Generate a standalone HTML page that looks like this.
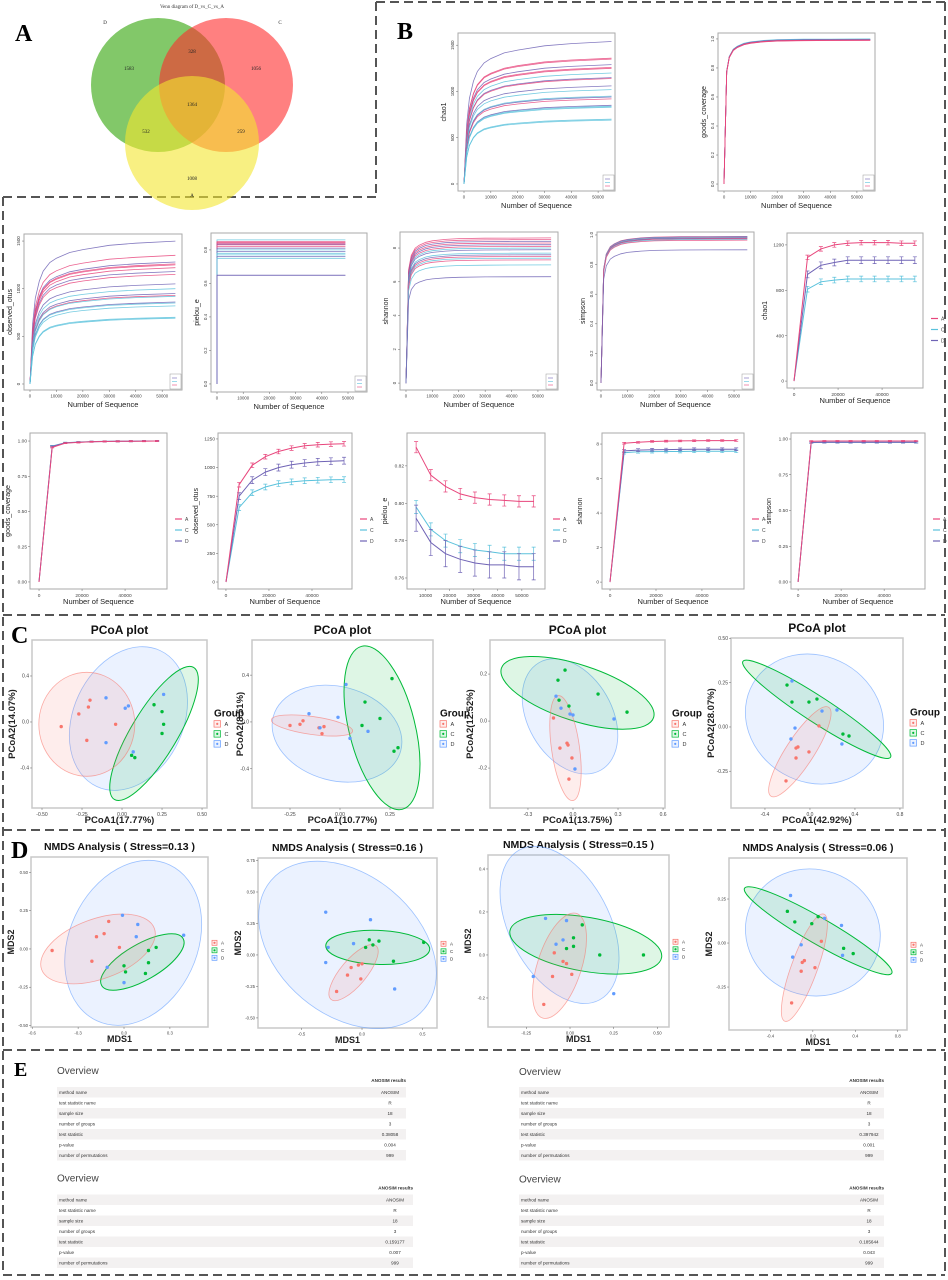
<!DOCTYPE html>
<html><head><meta charset="utf-8">
<style>
html,body{margin:0;padding:0;background:#fff;}
svg{display:block;font-family:"Liberation Sans",sans-serif;}
.lt{font-family:"Liberation Serif",serif;font-weight:bold;font-size:24px;}
.tb{font-size:4.6px;fill:#333;}
.ov{font-size:10px;fill:#444;}
</style></head>
<body>
<svg id="fig" width="948" height="1280" viewBox="0 0 948 1280" xmlns="http://www.w3.org/2000/svg">
<rect x="0" y="0" width="948" height="1280" fill="#fff"/>
<g stroke="#555" stroke-width="2" stroke-dasharray="9 5" fill="none">
<line x1="376" y1="2" x2="945" y2="2"/><line x1="376" y1="2" x2="376" y2="197"/><line x1="3" y1="197" x2="376" y2="197"/>
<line x1="945" y1="2" x2="945" y2="1275"/><line x1="3" y1="197" x2="3" y2="1275"/>
<line x1="3" y1="615" x2="945" y2="615"/><line x1="3" y1="830" x2="945" y2="830"/><line x1="3" y1="1050" x2="945" y2="1050"/><line x1="3" y1="1275" x2="945" y2="1275"/>
</g>
<text class="lt" x="15" y="41">A</text>
<text class="lt" x="397" y="39">B</text>
<text class="lt" x="11" y="643">C</text>
<text class="lt" x="11" y="858">D</text>
<text class="lt" x="14" y="1076" style="font-size:20px">E</text>

<g>
<text x="192" y="8" font-size="5" text-anchor="middle" fill="#333" font-family="Liberation Serif">Venn diagram of D_vs_C_vs_A</text>
<circle cx="158" cy="85" r="67" fill="#2fa305" fill-opacity="0.6"/>
<circle cx="226" cy="85" r="67" fill="#ff2b2b" fill-opacity="0.6"/>
<circle cx="192" cy="143" r="67" fill="#f3e62f" fill-opacity="0.6"/>
<g font-family="Liberation Serif" font-size="5" fill="#222" text-anchor="middle">
<text x="105" y="24">D</text><text x="280" y="24">C</text><text x="192" y="197">A</text>
<text x="129" y="70">1583</text><text x="192" y="53">328</text><text x="256" y="70">1056</text>
<text x="192" y="106">1364</text><text x="146" y="133">532</text><text x="241" y="133">259</text><text x="192" y="180">1008</text>
</g>
</g>

<g transform="translate(57,1087)">
<text class="ov" x="0" y="-13">Overview</text>
<text class="tb" x="349" y="-5" text-anchor="end" font-weight="bold">ANOSIM results</text>
<rect y="0" width="349" height="10.5" fill="#f3f1f1"/><rect y="21" width="349" height="10.5" fill="#f3f1f1"/><rect y="42" width="349" height="10.5" fill="#f3f1f1"/><rect y="63" width="349" height="10.5" fill="#f3f1f1"/>
<text class="tb" x="2" y="7">method name</text><text class="tb" x="333" y="7" text-anchor="middle">ANOSIM</text>
<text class="tb" x="2" y="17.5">test statistic name</text><text class="tb" x="333" y="17.5" text-anchor="middle">R</text>
<text class="tb" x="2" y="28">sample size</text><text class="tb" x="333" y="28" text-anchor="middle">18</text>
<text class="tb" x="2" y="38.5">number of groups</text><text class="tb" x="333" y="38.5" text-anchor="middle">3</text>
<text class="tb" x="2" y="49">test statistic</text><text class="tb" x="333" y="49" text-anchor="middle">0.38058</text>
<text class="tb" x="2" y="59.5">p-value</text><text class="tb" x="333" y="59.5" text-anchor="middle">0.004</text>
<text class="tb" x="2" y="70">number of permutations</text><text class="tb" x="333" y="70" text-anchor="middle">999</text>
</g>
<g transform="translate(519,1087)">
<text class="ov" x="0" y="-12">Overview</text>
<text class="tb" x="365" y="-5" text-anchor="end" font-weight="bold">ANOSIM results</text>
<rect y="0" width="365" height="10.5" fill="#f3f1f1"/><rect y="21" width="365" height="10.5" fill="#f3f1f1"/><rect y="42" width="365" height="10.5" fill="#f3f1f1"/><rect y="63" width="365" height="10.5" fill="#f3f1f1"/>
<text class="tb" x="2" y="7">method name</text><text class="tb" x="350" y="7" text-anchor="middle">ANOSIM</text>
<text class="tb" x="2" y="17.5">test statistic name</text><text class="tb" x="350" y="17.5" text-anchor="middle">R</text>
<text class="tb" x="2" y="28">sample size</text><text class="tb" x="350" y="28" text-anchor="middle">18</text>
<text class="tb" x="2" y="38.5">number of groups</text><text class="tb" x="350" y="38.5" text-anchor="middle">3</text>
<text class="tb" x="2" y="49">test statistic</text><text class="tb" x="350" y="49" text-anchor="middle">0.397942</text>
<text class="tb" x="2" y="59.5">p-value</text><text class="tb" x="350" y="59.5" text-anchor="middle">0.001</text>
<text class="tb" x="2" y="70">number of permutations</text><text class="tb" x="350" y="70" text-anchor="middle">999</text>
</g>
<g transform="translate(57,1194.5)">
<text class="ov" x="0" y="-13">Overview</text>
<text class="tb" x="356" y="-5" text-anchor="end" font-weight="bold">ANOSIM results</text>
<rect y="0" width="356" height="10.5" fill="#f3f1f1"/><rect y="21" width="356" height="10.5" fill="#f3f1f1"/><rect y="42" width="356" height="10.5" fill="#f3f1f1"/><rect y="63" width="356" height="10.5" fill="#f3f1f1"/>
<text class="tb" x="2" y="7">method name</text><text class="tb" x="338" y="7" text-anchor="middle">ANOSIM</text>
<text class="tb" x="2" y="17.5">test statistic name</text><text class="tb" x="338" y="17.5" text-anchor="middle">R</text>
<text class="tb" x="2" y="28">sample size</text><text class="tb" x="338" y="28" text-anchor="middle">18</text>
<text class="tb" x="2" y="38.5">number of groups</text><text class="tb" x="338" y="38.5" text-anchor="middle">3</text>
<text class="tb" x="2" y="49">test statistic</text><text class="tb" x="338" y="49" text-anchor="middle">0.159177</text>
<text class="tb" x="2" y="59.5">p-value</text><text class="tb" x="338" y="59.5" text-anchor="middle">0.007</text>
<text class="tb" x="2" y="70">number of permutations</text><text class="tb" x="338" y="70" text-anchor="middle">999</text>
</g>
<g transform="translate(519,1194.5)">
<text class="ov" x="0" y="-12">Overview</text>
<text class="tb" x="365" y="-5" text-anchor="end" font-weight="bold">ANOSIM results</text>
<rect y="0" width="365" height="10.5" fill="#f3f1f1"/><rect y="21" width="365" height="10.5" fill="#f3f1f1"/><rect y="42" width="365" height="10.5" fill="#f3f1f1"/><rect y="63" width="365" height="10.5" fill="#f3f1f1"/>
<text class="tb" x="2" y="7">method name</text><text class="tb" x="350" y="7" text-anchor="middle">ANOSIM</text>
<text class="tb" x="2" y="17.5">test statistic name</text><text class="tb" x="350" y="17.5" text-anchor="middle">R</text>
<text class="tb" x="2" y="28">sample size</text><text class="tb" x="350" y="28" text-anchor="middle">18</text>
<text class="tb" x="2" y="38.5">number of groups</text><text class="tb" x="350" y="38.5" text-anchor="middle">3</text>
<text class="tb" x="2" y="49">test statistic</text><text class="tb" x="350" y="49" text-anchor="middle">0.185644</text>
<text class="tb" x="2" y="59.5">p-value</text><text class="tb" x="350" y="59.5" text-anchor="middle">0.043</text>
<text class="tb" x="2" y="70">number of permutations</text><text class="tb" x="350" y="70" text-anchor="middle">999</text>
</g>
<g id="plots"></g>
</svg>
<script>
// ---------- data ----------
const rfX=[0,1000,2000,3500,5000,7500,10000,15000,20000,30000,40000,55000];
const rfFrac=[0,0.42,0.6,0.72,0.79,0.85,0.88,0.92,0.94,0.97,0.985,1];
const rfFracFast=[0,0.78,0.88,0.93,0.95,0.97,0.98,0.99,0.995,0.998,0.999,1];
const chaoIndVals=[1540,1360,1350,1290,1260,1250,1200,1150,1140,1060,1020,950,940,920,850,840,830,700,690];
const chaoIndGrp=['D','A','A','D','A','A','C','D','A','D','C','C','D','A','D','C','C','C','C'];
const goodsIndVals=[1,0.998,0.997,0.996,0.995,0.994,0.993,0.992,0.991,0.99];
const goodsIndGrp=['C','C','D','D','C','D','A','A','A','A'];
const obsIndVals=[1500,1350,1280,1260,1250,1220,1180,1150,1050,1000,950,930,920,860,850,820,700,690];
const obsIndGrp=['D','A','D','A','A','A','D','A','D','C','D','A','C','D','C','C','C','C'];
const pielouIndVals=[0.86,0.85,0.845,0.84,0.835,0.83,0.82,0.81,0.8,0.79,0.78,0.77,0.76,0.75,0.65,0.648];
const pielouIndGrp=['C','A','A','A','D','A','A','D','C','D','C','C','D','C','D','D'];
const shanIndVals=[8.6,8.5,8.4,8.3,8.2,8.1,8.0,7.9,7.7,7.6,7.5,7.4,7.3,7.0,6.3];
const shanIndGrp=['A','A','D','A','D','A','C','D','C','D','A','C','A','C','D'];
const simpIndVals=[0.99,0.988,0.985,0.982,0.98,0.978,0.975,0.97,0.965,0.9];
const simpIndGrp=['A','D','C','A','C','D','A','C','A','D'];

const meanX=[0,6100,12200,18300,24400,30500,36600,42700,48800,54900];
const meanX2=[6100,12200,18300,24400,30500,36600,42700,48800,54900];
const chaoA=[0,1090,1165,1200,1215,1220,1220,1220,1215,1215];
const chaoC=[0,810,875,890,900,900,900,900,900,900];
const chaoD=[0,940,1020,1045,1065,1065,1065,1065,1065,1065];
const goodsA=[0,0.955,0.985,0.99,0.995,0.997,0.998,0.999,0.999,1.0];
const goodsC=[0,0.965,0.988,0.993,0.996,0.998,0.999,0.999,1.0,1.0];
const goodsD=[0,0.962,0.987,0.992,0.995,0.997,0.998,0.999,1.0,1.0];
const obsA=[0,850,1020,1095,1140,1170,1190,1200,1205,1208];
const obsC=[0,650,780,830,860,875,885,890,893,895];
const obsD=[0,750,890,960,1000,1025,1040,1050,1055,1060];
const pieA=[0.830,0.815,0.809,0.805,0.803,0.802,0.8015,0.801,0.801];
const pieC=[0.798,0.786,0.780,0.777,0.775,0.774,0.773,0.773,0.773];
const pieD=[0.792,0.779,0.773,0.770,0.768,0.767,0.767,0.766,0.766];
const shanA=[0,8.05,8.1,8.15,8.17,8.18,8.19,8.2,8.2,8.2];
const shanC=[0,7.5,7.55,7.56,7.57,7.57,7.58,7.58,7.58,7.58];
const shanD=[0,7.6,7.65,7.67,7.68,7.69,7.7,7.7,7.7,7.7];
const simpA=[0,0.985,0.986,0.986,0.986,0.986,0.986,0.986,0.986,0.986];
const simpC=[0,0.975,0.976,0.976,0.976,0.976,0.976,0.976,0.976,0.976];
const simpD=[0,0.976,0.977,0.977,0.977,0.977,0.977,0.977,0.977,0.977];

const c1A=[[-0.38,-0.04],[-0.27,0.07],[-0.21,0.13],[-0.20,0.19],[-0.04,-0.02],[-0.22,-0.16]];
const c1C=[[0.20,0.15],[0.25,0.09],[0.26,-0.02],[0.25,-0.10],[0.06,-0.29],[0.08,-0.31]];
const c1D=[[-0.10,0.21],[0.02,0.12],[0.04,0.14],[-0.10,-0.18],[0.07,-0.26],[0.26,0.24]];
const c2A=[[-0.25,-0.03],[-0.2,-0.02],[-0.185,0.01],[-0.105,-0.05],[-0.08,-0.04],[-0.09,-0.1]];
const c2C=[[0.26,0.37],[0.125,0.17],[0.2,0.03],[0.11,-0.03],[0.27,-0.25],[0.29,-0.22]];
const c2D=[[-0.155,0.07],[0.03,0.32],[-0.01,0.04],[0.05,-0.14],[0.14,-0.08],[-0.1,-0.05]];
const c3A=[[-0.13,0.013],[-0.087,-0.115],[-0.04,-0.094],[-0.033,-0.102],[-0.007,-0.157],[-0.027,-0.247]];
const c3C=[[-0.1,0.174],[-0.053,0.217],[-0.093,0.089],[-0.027,0.064],[0.167,0.115],[0.36,0.038]];
const c3D=[[-0.113,0.106],[-0.08,0.055],[-0.02,0.03],[0.0,0.026],[0.273,0.009],[0.013,-0.204]];
const c4A=[[0.08,0.006],[-0.009,-0.141],[-0.107,-0.113],[-0.124,-0.119],[-0.124,-0.175],[-0.213,-0.305]];
const c4C=[[-0.204,0.237],[-0.16,0.141],[-0.009,0.141],[0.062,0.158],[0.293,-0.04],[0.347,-0.051]];
const c4D=[[-0.16,0.26],[0.107,0.09],[0.24,0.096],[-0.133,-0.006],[-0.169,-0.068],[0.284,-0.096]];
const d1A=[[-0.47,-0.01],[-0.21,-0.08],[-0.18,0.08],[-0.13,0.10],[-0.10,0.18],[-0.03,0.01]];
const d1C=[[0.0,-0.11],[0.01,-0.15],[0.16,-0.01],[0.21,0.01],[0.16,-0.09],[0.14,-0.16]];
const d1D=[[-0.01,0.22],[0.09,0.16],[0.08,0.08],[-0.11,-0.12],[0.0,-0.22],[0.39,0.09]];
const d2A=[[-0.21,-0.29],[-0.12,-0.16],[-0.09,-0.1],[-0.03,-0.08],[0,-0.07],[-0.01,-0.19]];
const d2C=[[0.06,0.12],[0.14,0.11],[0.03,0.06],[0.09,0.08],[0.26,-0.05],[0.51,0.10]];
const d2D=[[-0.3,0.34],[-0.28,0.06],[-0.3,-0.06],[-0.07,0.09],[0.07,0.28],[0.27,-0.27]];
const d3A=[[-0.09,0.01],[-0.04,-0.03],[-0.02,-0.04],[-0.1,-0.1],[0.01,-0.09],[-0.15,-0.23]];
const d3C=[[0.07,0.14],[0.02,0.08],[-0.02,0.03],[0.02,0.04],[0.17,0.0],[0.42,0.0]];
const d3D=[[-0.14,0.17],[-0.02,0.16],[-0.04,0.07],[-0.08,0.05],[-0.21,-0.10],[0.25,-0.18]];
const d4A=[[0.08,0.01],[-0.10,-0.11],[-0.08,-0.10],[-0.11,-0.16],[0.02,-0.14],[-0.2,-0.34]];
const d4C=[[-0.24,0.18],[-0.17,0.12],[-0.01,0.11],[0.05,0.15],[0.29,-0.03],[0.38,-0.06]];
const d4D=[[-0.21,0.27],[0.11,0.14],[0.27,0.10],[-0.11,-0.01],[-0.19,-0.08],[0.28,-0.07]];
const c1Ell=[[-0.22,-0.02],[0.20,-0.10],[0.04,0.03]];
const c2Ell=[[-0.14,-0.03],[0.21,-0.05],[-0.015,-0.10]];
const c3Ell=[[-0.05,-0.115],[0.03,0.12],[-0.02,0.02]];
const c4Ell=[[-0.09,-0.14],[0.06,0.10],[0.04,0.045]];
const d1Ell=[[-0.17,0.0],[0.12,-0.085],[0.06,0.04]];
const d2Ell=[[-0.07,-0.14],[0.13,0.06],[-0.12,0.08]];
const d3Ell=[[-0.06,-0.05],[0.09,0.05],[-0.06,0.14]];
const d4Ell=[[-0.08,-0.14],[0.05,0.07],[0.0,0.06]];

// ---------- helpers ----------
const NS='http://www.w3.org/2000/svg';
const root=document.getElementById('plots');
function mk(tag,a,p){const e=document.createElementNS(NS,tag);for(const k in a)e.setAttribute(k,a[k]);p.appendChild(e);return e;}
function tx(s,a,p){const e=mk('text',a,p);e.textContent=s;return e;}
function lin(d0,d1,r0,r1){return v=>r0+(v-d0)/(d1-d0)*(r1-r0);}
const GC={A:'#e8467c',C:'#5bc2dc',D:'#6f63b5'};
const OC={A:'#F8766D',C:'#00BA38',D:'#619CFF'};

function axes(g,fr,xd,yd,xt,xtl,yt,ytl,xlab,ylab,st){
  const [x,y,w,h]=fr;
  const sx=lin(xd[0],xd[1],x,x+w), sy=lin(yd[0],yd[1],y+h,y);
  const f=mk('rect',{x:x,y:y,width:w,height:h,fill:'none',stroke:st.fs,'stroke-width':st.fw},g);
  
  
  xt.forEach((v,i)=>{const X=sx(v);mk('line',{x1:X,y1:y+h,x2:X,y2:y+h+2,stroke:'#666','stroke-width':0.5},g);
    tx(xtl[i],{x:X,y:y+h+st.tf+3,'font-size':st.tf,'text-anchor':'middle',fill:'#444'},g);});
  yt.forEach((v,i)=>{const Y=sy(v);mk('line',{x1:x,y1:Y,x2:x-2,y2:Y,stroke:'#666','stroke-width':0.5},g);
    if(st.rotY){tx(ytl[i],{x:x-4,y:Y,'font-size':st.tf,'text-anchor':'middle',fill:'#444',transform:`rotate(-90 ${x-4} ${Y})`},g);}
    else tx(ytl[i],{x:x-3,y:Y+st.tf/3,'font-size':st.tf,'text-anchor':'end',fill:'#444'},g);});
  const xl=tx(xlab,{x:x+w/2,y:y+h+st.xo,'font-size':st.xf,'text-anchor':'middle',fill:'#222','font-weight':st.bold?'bold':'normal'},g);
  
  
  const yx=x-st.yo, yy=y+h/2;
  const yl=tx(ylab,{x:yx,y:yy,'font-size':st.yf,'text-anchor':'middle',fill:'#222','font-weight':st.bold?'bold':'normal',transform:`rotate(-90 ${yx} ${yy})`},g);
  
  
  return {sx,sy};
}
const stBase={fs:'#aaa',fw:1,tf:4.3,rotY:true,xo:17,xf:7.5,yo:12,yf:7,bold:false};
const stMean={fs:'#aaa',fw:1,tf:4.8,rotY:false,xo:15,xf:7.5,yo:20,yf:7,bold:false};
const stOrd={fs:'#c8c8c8',fw:1.5,tf:5,rotY:false,xo:15,xf:9.5,yo:17,yf:9.5,bold:true};
function path(pts){return pts.map((p,i)=>(i?'L':'M')+p[0].toFixed(1)+','+p[1].toFixed(1)).join('');}

function indPlot(name,fr,xd,yd,xt,yt,ytl,ylab,vals,grp,shape,flat){
  const g=mk('g',{},root);
  
  
  const {sx,sy}=axes(g,fr,xd,yd,xt,xt.map(String),yt,ytl,'Number of Sequence',ylab,stBase);
  vals.forEach((v,i)=>{
    let pts;
    if(flat) pts=[[sx(0),sy(0)],[sx(0),sy(v)],[sx(49000),sy(v)]];
    else pts=rfX.map((xx,j)=>[sx(xx),sy(v*shape[j])]);
    const c=mk('path',{d:path(pts),fill:'none',stroke:GC[grp[i]],'stroke-width':0.8,'stroke-opacity':0.85},g);
    
    
  });
  const lx=fr[0]+fr[2]-12, ly=fr[1]+fr[3]-16;
  const lg=mk('rect',{x:lx,y:ly,width:11,height:15,fill:'#fff',stroke:'#999','stroke-width':0.5},g);
  
  
  ['D','C','A'].forEach((k,i)=>mk('line',{x1:lx+2,x2:lx+7,y1:ly+4+i*3.5,y2:ly+4+i*3.5,stroke:GC[k],'stroke-width':0.6},g));
}
function meanPlot(name,fr,xd,yd,xt,yt,ytl,ylab,xs,series,errs){
  const g=mk('g',{},root);
  
  
  const {sx,sy}=axes(g,fr,xd,yd,xt,xt.map(String),yt,ytl,'Number of Sequence',ylab,stMean);
  ['C','D','A'].forEach(k=>{
    const vals=series[k], e=errs[k];
    const ln=mk('path',{d:path(xs.map((x,i)=>[sx(x),sy(vals[i])])),fill:'none',stroke:GC[k],'stroke-width':1},g);
    
    
    xs.forEach((x,i)=>{ if(vals[i]===0) return;
      const X=sx(x),y1=sy(vals[i]-e),y2=sy(vals[i]+e);
      mk('path',{d:`M${X},${y1}L${X},${y2}M${X-2},${y1}L${X+2},${y1}M${X-2},${y2}L${X+2},${y2}`,stroke:GC[k],'stroke-width':0.7,fill:'none'},g);});
  });
  const lx=fr[0]+fr[2]+8, ly=fr[1]+fr[3]/2+8;
  ['A','C','D'].forEach((k,i)=>{
    const l=mk('line',{x1:lx,x2:lx+7,y1:ly+i*11,y2:ly+i*11,stroke:GC[k],'stroke-width':1.2},g);
    
    
    tx(k,{x:lx+10,y:ly+i*11+2,'font-size':5,fill:'#444'},g);});
}
function ordPlot(name,title,fr,xd,yd,xt,xtl,yt,ytl,xlab,ylab,pts,ells,eshape,nmds,yo){
  const g=mk('g',{},root);
  
  
  const st=Object.assign({},stOrd); if(nmds){st.tf=4.3;st.xf=9;st.yf=9;} if(yo) st.yo=yo;
  const {sx,sy}=axes(g,fr,xd,yd,xt,xtl,yt,ytl,xlab,ylab,st);
  const t=tx(title,{x:fr[0]+fr[2]/2,y:fr[1]-(nmds?7:6),'font-size':nmds?10.5:12,'font-weight':'bold','text-anchor':'middle',fill:'#111'},g);
  
  
  ['D','C','A'].forEach(k=>{const i='ACD'.indexOf(k);
    const c=ells[i], s=eshape[i], X=sx(c[0]), Y=sy(c[1]);
    const e=mk('ellipse',{cx:X,cy:Y,rx:s[0],ry:s[1],transform:`rotate(${s[2]} ${X} ${Y})`,fill:OC[k],'fill-opacity':0.13,stroke:OC[k],'stroke-width':k==='C'?1:0.8,'stroke-opacity':k==='C'?1:0.6},g);
    
    
  });
  ['A','C','D'].forEach(k=>pts[k].forEach(p=>{
    const d=mk('circle',{cx:sx(p[0]),cy:sy(p[1]),r:1.7,fill:OC[k]},g);
    
    
  }));
  const lx=fr[0]+fr[2]+(nmds?4:7);
  let ly=nmds? fr[1]+fr[3]*0.49 : fr[1]+fr[3]*0.48;
  if(!nmds){const gt=tx('Group',{x:lx,y:ly-4,'font-size':10,'font-weight':'bold',fill:'#111'},g);
    
    }
  const bs=nmds?5:6.5, gap=nmds?7.5:10;
  ['A','C','D'].forEach((k,i)=>{
    const yy=ly+i*gap;
    const b=mk('rect',{x:lx,y:yy,width:bs,height:bs,fill:OC[k],'fill-opacity':0.13,stroke:OC[k],'stroke-width':0.7},g);
    
    
    mk('circle',{cx:lx+bs/2,cy:yy+bs/2,r:1.1,fill:OC[k]},g);
    tx(k,{x:lx+bs+4,y:yy+bs-1,'font-size':nmds?4.5:5.5,fill:'#333'},g);
  });
}

indPlot('chao1-rarefaction',[458,33,157,158],[-2240,56300],[-76,1632],[0,10000,20000,30000,40000,50000],[0,500,1000,1500],['0','500','1000','1500'],'chao1',chaoIndVals,chaoIndGrp,rfFrac,false);
indPlot('goods-coverage-rarefaction',[718,33,157,158],[-2260,56800],[-0.048,1.041],[0,10000,20000,30000,40000,50000],[0,0.2,0.4,0.6,0.8,1.0],['0.0','0.2','0.4','0.6','0.8','1.0'],'goods_coverage',goodsIndVals,goodsIndGrp,rfFracFast,false);
indPlot('observed-otus-rarefaction',[24,234,158,156],[-2270,57500],[-63,1574],[0,10000,20000,30000,40000,50000],[0,500,1000,1500],['0','500','1000','1500'],'observed_otus',obsIndVals,obsIndGrp,rfFrac,false);
indPlot('pielou-rarefaction',[211,233,156,159],[-2290,57250],[-0.048,0.901],[0,10000,20000,30000,40000,50000],[0,0.2,0.4,0.6,0.8],['0.0','0.2','0.4','0.6','0.8'],'pielou_e',pielouIndVals,pielouIndGrp,rfFrac,true);
indPlot('shannon-rarefaction',[400,232,158,158],[-2270,57600],[-0.41,8.95],[0,10000,20000,30000,40000,50000],[0,2,4,6,8],['0','2','4','6','8'],'shannon',shanIndVals,shanIndGrp,rfFracFast,false);
indPlot('simpson-rarefaction',[597,232,157,158],[-1500,57500],[-0.047,1.02],[0,10000,20000,30000,40000,50000],[0,0.2,0.4,0.6,0.8,1.0],['0.0','0.2','0.4','0.6','0.8','1.0'],'simpson',simpIndVals,simpIndGrp,rfFracFast,false);
meanPlot('chao1-group-mean',[787,233,136,155],[-3200,58600],[-61,1305],[0,20000,40000],[0,400,800,1200],['0','400','800','1200'],'chao1',meanX,{A:chaoA,C:chaoC,D:chaoD},{A:20,C:25,D:30});
meanPlot('goods-group-mean',[30,433,137,156],[-4200,59500],[-0.05,1.057],[0,20000,40000],[0,0.25,0.5,0.75,1],['0.00','0.25','0.50','0.75','1.00'],'goods_coverage',meanX,{A:goodsA,C:goodsC,D:goodsD},{A:0.004,C:0.004,D:0.004});
meanPlot('observed-otus-group-mean',[218,433,134,156],[-3700,58600],[-61,1302],[0,20000,40000],[0,250,500,750,1000,1250],['0','250','500','750','1000','1250'],'observed_otus',meanX,{A:obsA,C:obsC,D:obsD},{A:20,C:25,D:30});
meanPlot('pielou-group-mean',[407,433,138,156],[2320,59600],[0.7541,0.8376],[10000,20000,30000,40000,50000],[0.76,0.78,0.80,0.82],['0.76','0.78','0.80','0.82'],'pielou_e',meanX2,{A:pieA,C:pieC,D:pieD},{A:0.003,C:0.0035,D:0.007});
meanPlot('shannon-group-mean',[602,433,142,156],[-3500,58300],[-0.4,8.64],[0,20000,40000],[0,2,4,6,8],['0','2','4','6','8'],'shannon',meanX,{A:shanA,C:shanC,D:shanD},{A:0.05,C:0.08,D:0.08});
meanPlot('simpson-group-mean',[791,433,134,156],[-3300,59000],[-0.049,1.042],[0,20000,40000],[0,0.25,0.5,0.75,1],['0.00','0.25','0.50','0.75','1.00'],'simpson',meanX,{A:simpA,C:simpC,D:simpD},{A:0.004,C:0.005,D:0.005});

ordPlot('pcoa-plot-1','PCoA plot',[32,640,175,168],[-0.5625,0.531],[-0.748,0.713],[-0.5,-0.25,0,0.25,0.5],['-0.50','-0.25','0.00','0.25','0.50'],[-0.4,0,0.4],['-0.4','0.0','0.4'],'PCoA1(17.77%)','PCoA2(14.07%)',{A:c1A,C:c1C,D:c1D},c1Ell,[[48,52,0],[77,23,-59],[75,55,-65]],false);
ordPlot('pcoa-plot-2','PCoA plot',[252,640,181,168],[-0.44,0.465],[-0.735,0.70],[-0.25,0,0.25],['-0.25','0.00','0.25'],[-0.4,0,0.4],['-0.4','0.0','0.4'],'PCoA1(10.77%)','PCoA2(8.51%)',{A:c2A,C:c2C,D:c2D},c2Ell,[[41,9,8],[84,33,76],[66,47,15]],false,9);
ordPlot('pcoa-plot-3','PCoA plot',[490,640,175,168],[-0.553,0.613],[-0.37,0.345],[-0.3,0,0.3,0.6],['-0.3','0.0','0.3','0.6'],[-0.2,0,0.2],['-0.2','0.0','0.2'],'PCoA1(13.75%)','PCoA2(12.52%)',{A:c3A,C:c3C,D:c3D},c3Ell,[[53,14,82],[80,28,18],[62,42,60]],false);
ordPlot('pcoa-plot-4','PCoA plot',[731,638,172,170],[-0.702,0.827],[-0.458,0.503],[-0.4,0,0.4,0.8],['-0.4','0.0','0.4','0.8'],[-0.25,0,0.25,0.5],['-0.25','0.00','0.25','0.50'],'PCoA1(42.92%)','PCoA2(28.07%)',{A:c4A,C:c4C,D:c4D},c4Ell,[[53,14,-57],[88,13,33],[71,63,30]],false);

ordPlot('nmds-plot-1','NMDS Analysis ( Stress=0.13 )',[31,857,177,170],[-0.608,0.549],[-0.51,0.601],[-0.6,-0.3,0,0.3],['-0.6','-0.3','0.0','0.3'],[-0.5,-0.25,0,0.25,0.5],['-0.50','-0.25','0.00','0.25','0.50'],'MDS1','MDS2',{A:d1A,C:d1C,D:d1D},d1Ell,[[60,30,-20],[47,18,-30],[86,64,-65]],true);
ordPlot('nmds-plot-2','NMDS Analysis ( Stress=0.16 )',[258,858,179,170],[-0.86,0.62],[-0.58,0.77],[-0.5,0,0.5],['-0.5','0.0','0.5'],[-0.5,-0.25,0,0.25,0.5,0.75],['-0.50','-0.25','0.00','0.25','0.50','0.75'],'MDS1','MDS2',{A:d2A,C:d2C,D:d2D},d2Ell,[[35,13,-50],[52,17,2],[100,70,40]],true);
ordPlot('nmds-plot-3','NMDS Analysis ( Stress=0.15 )',[488,855,181,172],[-0.469,0.566],[-0.335,0.465],[-0.25,0,0.25,0.5],['-0.25','0.00','0.25','0.50'],[-0.2,0,0.2,0.4],['-0.2','0.0','0.2','0.4'],'MDS1','MDS2',{A:d3A,C:d3C,D:d3D},d3Ell,[[55,22,-72],[77,27,10],[85,50,62]],true);
ordPlot('nmds-plot-4','NMDS Analysis ( Stress=0.06 )',[729,858,178,172],[-0.79,0.887],[-0.494,0.483],[-0.4,0,0.4,0.8],['-0.4','0.0','0.4','0.8'],[-0.25,0,0.25],['-0.25','0.00','0.25'],'MDS1','MDS2',{A:d4A,C:d4C,D:d4D},d4Ell,[[57,13,-70],[85,13,30],[68,63,20]],true);
</script>
</body></html>
